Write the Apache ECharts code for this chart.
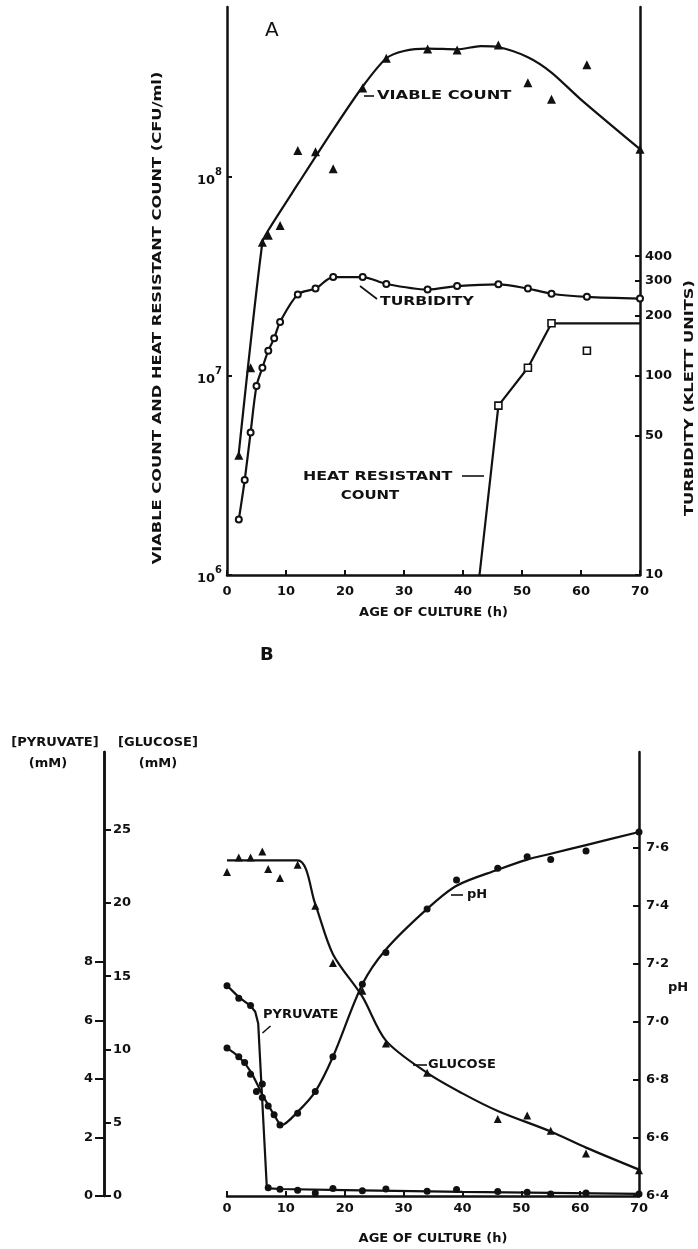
<!DOCTYPE html>
<html lang="en">
<head>
<meta charset="utf-8">
<title>Age of culture</title>
<script src="https://cdn.jsdelivr.net/npm/echarts@6/dist/echarts.min.js"></script>
<style>
    html, body, #main {
        width: 100%;
        height: 100%;
        margin: 0;
        padding: 0;
        background: #fff;
    }
</style>
</head>
<body>
<div id="main"></div>
<script>
// ---------- panel A ----------
var viableHours = [2, 4, 6, 7, 9, 12, 15, 18, 23, 27, 34, 39, 46, 51, 55, 61, 70];
var viableCount = [4.0e6, 1.1e7, 4.7e7, 5.1e7, 5.7e7, 1.36e8, 1.34e8, 1.1e8, 2.8e8, 3.95e8, 4.4e8, 4.35e8, 4.6e8, 2.98e8, 2.46e8, 3.66e8, 1.38e8];
// curve drawn through the viable counts
var viableFitHours = [2, 6, 7, 12, 18, 23, 27, 30, 34, 39, 43, 46, 51, 55, 60, 70];
var viableFit = [4.1e6, 4.7e7, 5.4e7, 9.2e7, 1.73e8, 2.85e8, 3.95e8, 4.3e8, 4.42e8, 4.38e8, 4.55e8, 4.5e8, 4.0e8, 3.35e8, 2.45e8, 1.38e8];

var turbHours = [2, 3, 4, 5, 6, 7, 8, 9, 12, 15, 18, 23, 27, 34, 39, 46, 51, 55, 61, 70];
var turbidity = [19, 30, 52, 89, 110, 134, 155, 187, 257, 275, 314, 314, 290, 272, 283, 289, 275, 259, 250, 245];

var heatHours = [46, 51, 55, 61];
var heatCount = [7.1e6, 1.1e7, 1.84e7, 1.34e7];
var heatLineHours = [42.8, 46, 51, 55, 70];
var heatLine = [1e6, 7.1e6, 1.1e7, 1.84e7, 1.84e7];

var countTicks = [1e6, 1e7, 1e8];
var turbTicks = [10, 50, 100, 200, 300, 400];

// ---------- panel B ----------
var phHours = [0, 2, 3, 4, 5, 6, 7, 8, 9, 12, 15, 18, 23, 27, 34, 39, 46, 51, 55, 61, 70];
var ph = [6.91, 6.88, 6.86, 6.82, 6.76, 6.74, 6.71, 6.68, 6.645, 6.685, 6.76, 6.88, 7.13, 7.24, 7.39, 7.49, 7.53, 7.57, 7.56, 7.59, 7.655];
var phFitHours = [0, 2, 4, 6, 8, 9.3, 12, 15, 18, 23, 27, 34, 39, 46, 51, 55, 61, 70];
var phFit = [6.91, 6.88, 6.83, 6.75, 6.68, 6.645, 6.69, 6.76, 6.88, 7.13, 7.25, 7.39, 7.47, 7.525, 7.56, 7.58, 7.61, 7.655];

var glucHours = [0, 2, 4, 6, 7, 9, 12, 15, 18, 23, 27, 34, 46, 51, 55, 61, 70];
var glucose = [22.1, 23.1, 23.1, 23.5, 22.3, 21.7, 22.6, 19.8, 15.9, 14.0, 10.4, 8.4, 5.25, 5.5, 4.45, 2.9, 1.75];
var glucFitHours = [0, 12, 15, 18, 23, 27, 34, 40, 46, 55, 61, 70];
var glucFit = [22.9, 22.9, 19.9, 16.5, 13.6, 10.6, 8.4, 7.0, 5.8, 4.4, 3.3, 1.8];

var pyrHours = [0, 2, 4, 6, 7, 9, 12, 15, 18, 23, 27, 34, 39, 46, 51, 55, 61, 70];
var pyruvate = [7.19, 6.76, 6.51, 3.83, 0.28, 0.23, 0.2, 0.1, 0.26, 0.18, 0.24, 0.16, 0.22, 0.15, 0.13, 0.07, 0.1, 0.07];
var pyrFitHours = [0, 2, 4, 4.8, 5.3, 6.75, 7.3, 9, 20, 40, 70];
var pyrFit = [7.2, 6.8, 6.5, 6.3, 5.9, 0.35, 0.26, 0.24, 0.2, 0.14, 0.07];

var phTicks = [6.4, 6.6, 6.8, 7.0, 7.2, 7.4, 7.6];
var glucTicks = [0, 5, 10, 15, 20, 25];
var pyrTicks = [0, 2, 4, 6, 8];

function pairs(xs, ys) {
    return xs.map(function (x, i) { return [x, ys[i]]; });
}

var FONT = "'DejaVu Sans', sans-serif";
var INK = '#111';
var axisLine = { show: true, onZero: false, lineStyle: { color: INK, width: 2.5 } };
var tickStyle = { lineStyle: { color: INK, width: 2 } };
var labelFont = { color: INK, fontFamily: FONT, fontWeight: 'bold', fontSize: 13 };
var solidInk = { color: INK, opacity: 1 };

function hourAxis(grid, margin, gap) {
    return {
        type: 'value', gridIndex: grid, min: 0, max: 70, interval: 10,
        axisLine: axisLine,
        axisTick: Object.assign({ inside: true, length: 5 }, tickStyle),
        axisLabel: Object.assign({ margin: margin }, labelFont),
        splitLine: { show: false },
        name: 'AGE OF CULTURE (h)', nameLocation: 'middle', nameGap: gap,
        nameTextStyle: { color: INK, fontFamily: FONT, fontWeight: 'bold', fontSize: 13 }
    };
}

function txt(text, x, y, opts) {
    opts = opts || {};
    return {
        type: 'text', x: x, y: y,
        rotation: opts.rotation || 0,
        scaleX: opts.scale || 1,
        style: {
            text: text, x: 0, y: 0,
            fill: INK,
            font: (opts.weight || 'bold') + ' ' + (opts.size || 13) + 'px ' + FONT,
            textAlign: opts.align || 'left',
            textVerticalAlign: 'middle'
        }
    };
}
function seg(x1, y1, x2, y2) {
    return { type: 'line', shape: { x1: x1, y1: y1, x2: x2, y2: y2 }, style: { stroke: INK, lineWidth: 1.6 } };
}

var chart = echarts.init(document.getElementById('main'));
chart.setOption({
    animation: false,
    backgroundColor: '#fff',
    grid: [
        { left: 227, right: 58, top: 7, height: 568 },
        { left: 227, right: 59, top: 752, height: 444 }
    ],
    xAxis: [hourAxis(0, 10, 31), hourAxis(1, 6, 36)],
    yAxis: [
        {   // viable / heat resistant count
            type: 'log', logBase: 10, gridIndex: 0, position: 'left',
            min: 1e6, max: 7.15e8,
            axisLine: axisLine,
            axisTick: Object.assign({ inside: true, length: 5, customValues: countTicks }, tickStyle),
            axisLabel: Object.assign({
                margin: 5, customValues: countTicks,
                formatter: function (v) {
                    return '{b|10}{s|' + Math.round(Math.log10(v)) + '}';
                },
                rich: {
                    b: { fontFamily: FONT, fontWeight: 'bold', fontSize: 13, color: INK, lineHeight: 20, verticalAlign: 'bottom' },
                    s: { fontFamily: FONT, fontWeight: 'bold', fontSize: 10, color: INK, lineHeight: 10, verticalAlign: 'top' }
                }
            }, labelFont),
            splitLine: { show: false }
        },
        {   // turbidity
            type: 'log', logBase: 10, gridIndex: 0, position: 'right',
            min: 10, max: 7150,
            axisLine: axisLine,
            axisTick: Object.assign({ inside: true, length: 5, customValues: turbTicks }, tickStyle),
            axisLabel: Object.assign({ margin: 5, customValues: turbTicks }, labelFont),
            splitLine: { show: false }
        },
        {   // pH
            type: 'value', gridIndex: 1, position: 'right',
            min: 6.4, max: 7.931,
            axisLine: axisLine,
            axisTick: Object.assign({ inside: true, length: 6, customValues: phTicks }, tickStyle),
            axisLabel: Object.assign({
                margin: 7, customValues: phTicks,
                formatter: function (v) { return v.toFixed(1).replace('.', '\u00b7'); }
            }, labelFont),
            splitLine: { show: false }
        },
        {   // glucose, ticks and labels on the right of the line
            type: 'value', gridIndex: 1, position: 'left', offset: 123,
            min: 0, max: 30.29,
            axisLine: axisLine,
            axisTick: Object.assign({ inside: true, length: 7, customValues: glucTicks }, tickStyle),
            axisLabel: Object.assign({ inside: true, margin: 9, customValues: glucTicks }, labelFont),
            splitLine: { show: false }
        },
        {   // pyruvate, ticks and labels on the left of the line
            type: 'value', gridIndex: 1, position: 'left', offset: 123,
            min: 0, max: 15.18,
            axisLine: axisLine,
            axisTick: Object.assign({ inside: false, length: 9, customValues: pyrTicks }, tickStyle),
            axisLabel: Object.assign({ margin: 11, customValues: pyrTicks }, labelFont),
            splitLine: { show: false }
        }
    ],
    series: [
        {
            name: 'viable count fit', type: 'line', xAxisIndex: 0, yAxisIndex: 0,
            data: pairs(viableFitHours, viableFit), smooth: 0.25, showSymbol: false,
            lineStyle: { color: INK, width: 2.2 }
        },
        {
            name: 'viable count', type: 'scatter', xAxisIndex: 0, yAxisIndex: 0,
            data: pairs(viableHours, viableCount), symbol: 'triangle', symbolSize: 9,
            itemStyle: solidInk
        },
        {
            name: 'turbidity', type: 'line', xAxisIndex: 0, yAxisIndex: 1,
            data: pairs(turbHours, turbidity), smooth: 0.3,
            symbol: 'emptyCircle', symbolSize: 6,
            lineStyle: { color: INK, width: 2.2 },
            itemStyle: { color: INK, borderWidth: 1.5 }
        },
        {
            name: 'heat resistant line', type: 'line', xAxisIndex: 0, yAxisIndex: 0,
            data: pairs(heatLineHours, heatLine), showSymbol: false,
            lineStyle: { color: INK, width: 2.2 }
        },
        {
            name: 'heat resistant count', type: 'scatter', xAxisIndex: 0, yAxisIndex: 0,
            data: pairs(heatHours, heatCount), symbol: 'rect', symbolSize: 7,
            itemStyle: { color: '#fff', borderColor: INK, borderWidth: 1.6, opacity: 1 }, z: 5
        },
        {
            name: 'pH fit', type: 'line', xAxisIndex: 1, yAxisIndex: 2,
            data: pairs(phFitHours, phFit), smooth: 0.3, showSymbol: false,
            lineStyle: { color: INK, width: 2.2 }
        },
        {
            name: 'pH', type: 'scatter', xAxisIndex: 1, yAxisIndex: 2,
            data: pairs(phHours, ph), symbol: 'circle', symbolSize: 7,
            itemStyle: solidInk
        },
        {
            name: 'glucose fit', type: 'line', xAxisIndex: 1, yAxisIndex: 3,
            data: pairs(glucFitHours, glucFit), smooth: 0.3, showSymbol: false,
            lineStyle: { color: INK, width: 2.2 }
        },
        {
            name: 'glucose', type: 'scatter', xAxisIndex: 1, yAxisIndex: 3,
            data: pairs(glucHours, glucose), symbol: 'triangle', symbolSize: 8,
            itemStyle: solidInk
        },
        {
            name: 'pyruvate fit', type: 'line', xAxisIndex: 1, yAxisIndex: 4,
            data: pairs(pyrFitHours, pyrFit), showSymbol: false,
            lineStyle: { color: INK, width: 2.2 }
        },
        {
            name: 'pyruvate', type: 'scatter', xAxisIndex: 1, yAxisIndex: 4,
            data: pairs(pyrHours, pyruvate), symbol: 'circle', symbolSize: 7,
            itemStyle: solidInk
        }
    ],
    graphic: [
        // panel A
        txt('A', 265, 31, { size: 20, weight: 'normal' }),
        seg(364, 96, 374, 96),
        txt('VIABLE COUNT', 377, 96, { scale: 1.25 }),
        seg(360, 286, 377, 299),
        txt('TURBIDITY', 380, 302, { scale: 1.2 }),
        txt('HEAT RESISTANT', 303, 477, { scale: 1.22 }),
        seg(462, 476, 484, 476),
        txt('COUNT', 370, 496, { align: 'center', scale: 1.15 }),
        txt('VIABLE COUNT AND HEAT RESISTANT COUNT (CFU/ml)', 158, 318, { align: 'center', rotation: Math.PI / 2, scale: 1.25 }),
        txt('TURBIDITY (KLETT UNITS)', 690, 398, { align: 'center', rotation: Math.PI / 2, scale: 1.25 }),
        txt('B', 260, 655, { size: 18 }),
        // panel B
        txt('[PYRUVATE]', 55, 743, { align: 'center' }),
        txt('(mM)', 48, 764, { align: 'center' }),
        txt('[GLUCOSE]', 158, 743, { align: 'center' }),
        txt('(mM)', 158, 764, { align: 'center' }),
        txt('PYRUVATE', 263, 1015),
        seg(262.5, 1033, 270.5, 1026),
        seg(413, 1065, 427, 1065),
        txt('GLUCOSE', 428, 1065),
        seg(451, 895, 463, 895),
        txt('pH', 467, 895),
        txt('pH', 678, 988, { align: 'center' })
    ]
});
</script>
</body>
</html>
